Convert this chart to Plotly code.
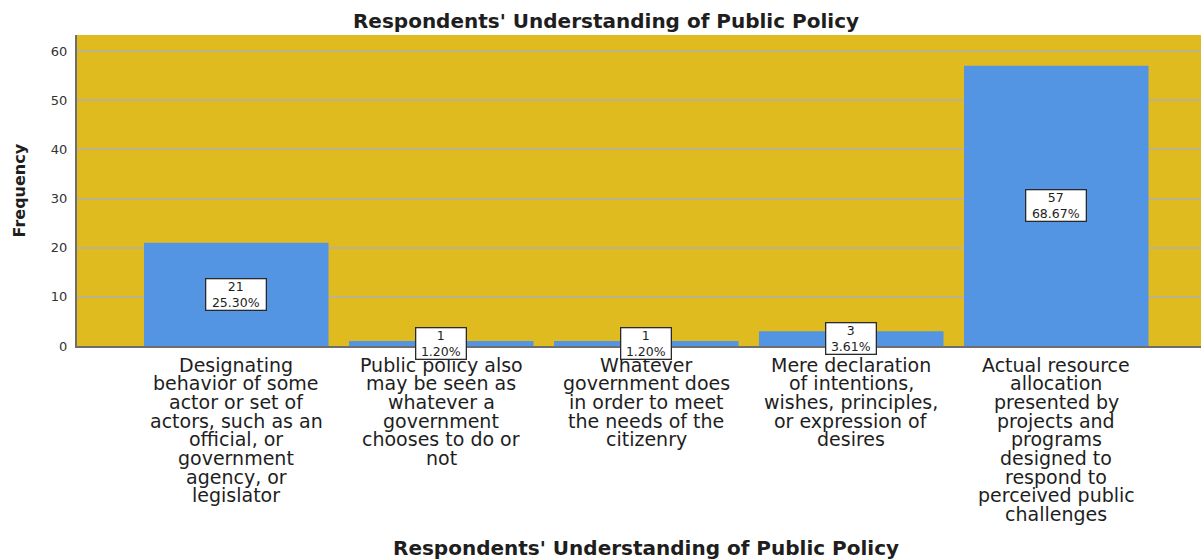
import plotly.graph_objects as go

# Response categories, one list of wrapped lines per bar
category_lines = [
    ["Designating", "behavior of some", "actor or set of", "actors, such as an",
     "official, or", "government", "agency, or", "legislator"],
    ["Public policy also", "may be seen as", "whatever a", "government",
     "chooses to do or", "not"],
    ["Whatever", "government does", "in order to meet", "the needs of the",
     "citizenry"],
    ["Mere declaration", "of intentions,", "wishes, principles,",
     "or expression of", "desires"],
    ["Actual resource", "allocation", "presented by", "projects and",
     "programs", "designed to", "respond to", "perceived public",
     "challenges"],
]
counts = [21, 1, 1, 3, 57]
percents = ["25.30%", "1.20%", "1.20%", "3.61%", "68.67%"]
y_ticks = [0, 10, 20, 30, 40, 50, 60]

chart_title = "Respondents' Understanding of Public Policy"
x_title = "Respondents' Understanding of Public Policy"
y_title = "Frequency"

categories = [" ".join(lines) for lines in category_lines]

GOLD = "#E0BB1F"
BLUE = "#5394E3"
GRID = "#BFB188"
AXIS = "#6E6E6E"
TEXT = "#1E1E1E"
FONT = "DejaVu Sans"

fig = go.Figure()
fig.add_trace(go.Bar(
    x=categories,
    y=counts,
    width=0.9,
    marker=dict(color=BLUE, line=dict(width=0)),
    hoverinfo="x+y",
))

annotations = []

# Wrapped category labels under the axis, tight line spacing
LINE_STEP = 18.7
FIRST_OFFSET = 18.5
for cat, lines in zip(categories, category_lines):
    for i, line in enumerate(lines):
        annotations.append(dict(
            x=cat, xref="x", y=0, yref="paper",
            text=line, showarrow=False,
            xanchor="center", yanchor="middle",
            yshift=-(FIRST_OFFSET + LINE_STEP * i),
            font=dict(family=FONT, size=19, color=TEXT),
        ))

# Boxed count / percentage labels at mid-height of each bar
for cat, n, pct in zip(categories, counts, percents):
    annotations.append(dict(
        x=cat, xref="x", y=n / 2, yref="y",
        text=f"{n}<br>{pct}", showarrow=False,
        xanchor="center", yanchor="middle",
        font=dict(family=FONT, size=12.5, color=TEXT),
        bgcolor="white", bordercolor="#2A2A2A", borderwidth=1.3,
        borderpad=0, width=10 * len(pct) - 1, height=30,
    ))

# Axis titles
annotations.append(dict(
    x=(646 - 77) / 1124, xref="paper", y=0, yref="paper",
    yshift=-202, text=f"<b>{x_title}</b>", showarrow=False,
    xanchor="center", yanchor="middle",
    font=dict(family=FONT, size=20, color=TEXT),
))
annotations.append(dict(
    x=0, xref="paper", xshift=-58, y=0.5, yref="paper",
    text=f"<b>{y_title}</b>", showarrow=False, textangle=-90,
    xanchor="center", yanchor="middle",
    font=dict(family=FONT, size=16, color=TEXT),
))

fig.update_layout(
    width=1201, height=560,
    margin=dict(l=77, r=0, t=35, b=214, pad=0),
    paper_bgcolor="white",
    plot_bgcolor=GOLD,
    showlegend=False,
    title=dict(
        text=f"<b>{chart_title}</b>",
        x=606 / 1201, xanchor="center",
        y=1 - 20.5 / 560, yanchor="middle",
        font=dict(family=FONT, size=20, color=TEXT),
    ),
    annotations=annotations,
    bargap=0.1,
)

fig.update_xaxes(
    type="category",
    categoryorder="array", categoryarray=categories,
    range=[-0.777, 4.706],
    showticklabels=False, ticks="",
    showgrid=False, zeroline=False,
    showline=True, linecolor=AXIS, linewidth=1.5,
)
fig.update_yaxes(
    range=[0, 63.26],
    tickvals=y_ticks,
    ticktext=[str(t) for t in y_ticks],
    tickfont=dict(family=FONT, size=13, color="#333333"),
    ticks="", ticklabelstandoff=5,
    showgrid=True, gridcolor=GRID, gridwidth=1.5,
    zeroline=False,
    showline=True, linecolor=AXIS, linewidth=2,
)

fig.write_html("out.html")
